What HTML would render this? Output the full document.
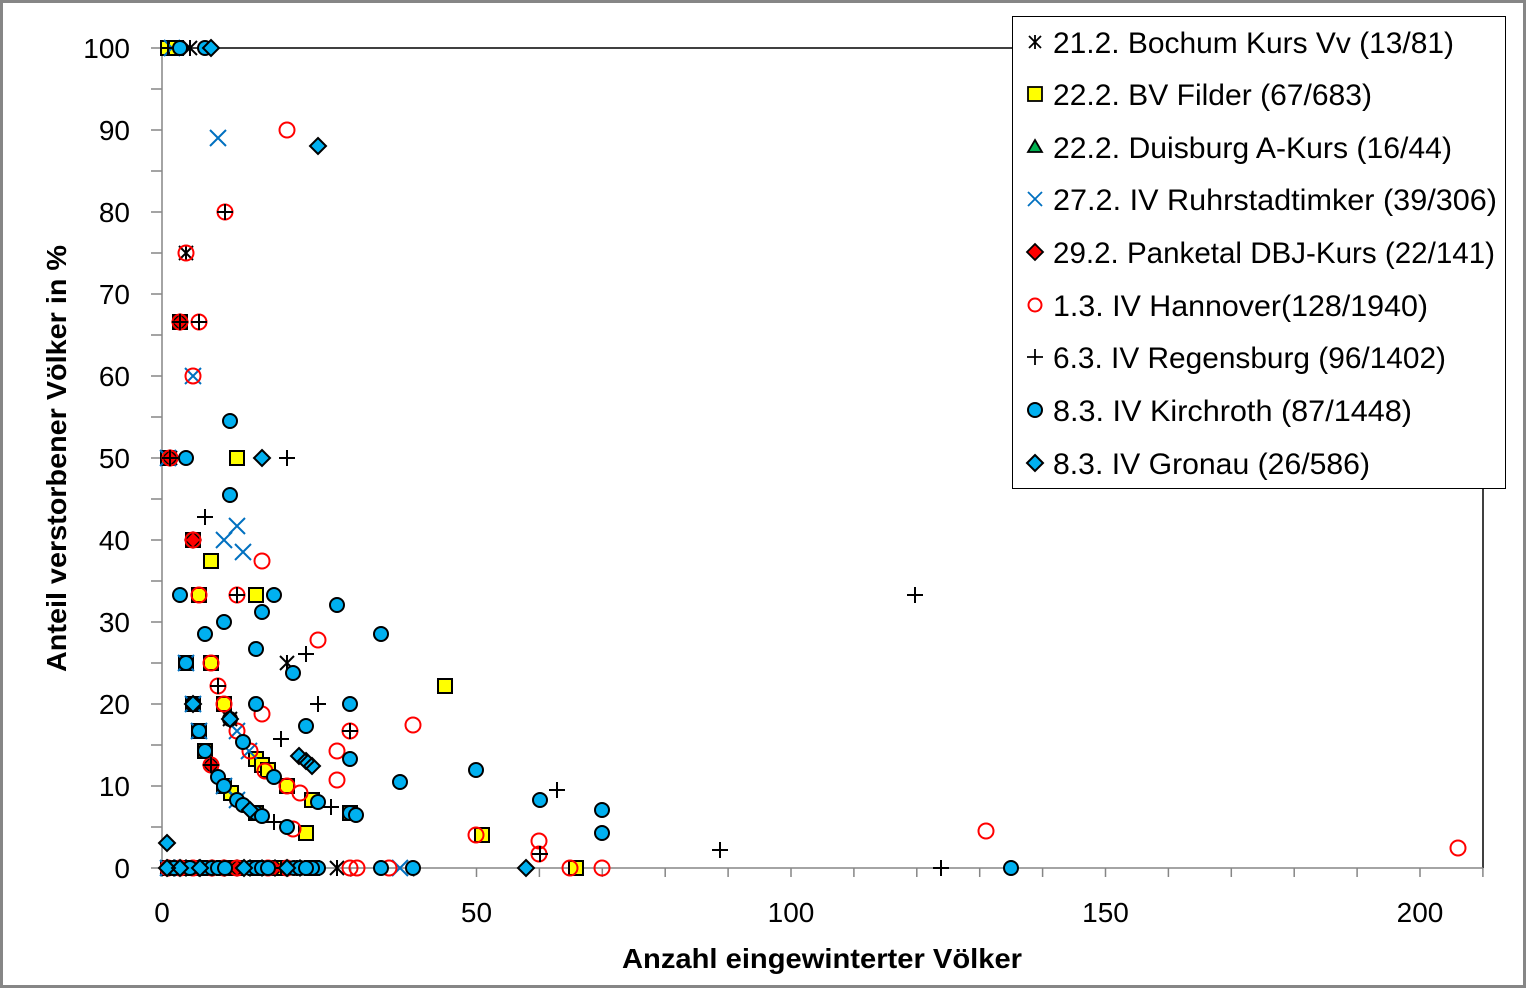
<!DOCTYPE html>
<html><head><meta charset="utf-8"><style>html,body{margin:0;padding:0;background:#fff}svg{display:block}</style></head>
<body>
<svg xmlns="http://www.w3.org/2000/svg" width="1526" height="988" viewBox="0 0 1526 988">
<rect x="0" y="0" width="1526" height="988" fill="#fff"/>
<rect x="1.5" y="1.5" width="1523" height="985" fill="none" stroke="#868686" stroke-width="3"/>
<!-- plot frame -->
<path d="M162 48H1483V868" fill="none" stroke="#000" stroke-width="1.5"/>
<path d="M162 48V868H1483" fill="none" stroke="#868686" stroke-width="1.5"/>
<path d="M151 868h11M151 827h11M151 786h11M151 745h11M151 704h11M151 663h11M151 622h11M151 581h11M151 540h11M151 499h11M151 458h11M151 417h11M151 376h11M151 335h11M151 294h11M151 253h11M151 212h11M151 171h11M151 130h11M151 89h11M151 48h11" stroke="#868686" stroke-width="1.5"/>
<path d="M162 868v9M224.9 868v9M287.8 868v9M350.7 868v9M413.6 868v9M476.5 868v9M539.4 868v9M602.3 868v9M665.2 868v9M728.1 868v9M791 868v9M853.9 868v9M916.8 868v9M979.7 868v9M1042.6 868v9M1105.5 868v9M1168.4 868v9M1231.3 868v9M1294.2 868v9M1357.1 868v9M1420 868v9M1482.9 868v9" stroke="#868686" stroke-width="1.5"/>
<g font-family="Liberation Sans, Arial, sans-serif" font-size="28" fill="#000" text-anchor="end">
<text x="130" y="878">0</text><text x="130" y="796">10</text><text x="130" y="714">20</text><text x="130" y="632">30</text><text x="130" y="550">40</text><text x="130" y="468">50</text><text x="130" y="386">60</text><text x="130" y="304">70</text><text x="130" y="222">80</text><text x="130" y="140">90</text><text x="130" y="58">100</text>
</g>
<g font-family="Liberation Sans, Arial, sans-serif" font-size="28" fill="#000" text-anchor="middle">
<text x="162" y="922">0</text><text x="476.5" y="922">50</text><text x="791" y="922">100</text><text x="1105.5" y="922">150</text><text x="1420" y="922">200</text>
</g>
<text x="622" y="968" font-family="Liberation Sans, Arial, sans-serif" font-size="28" font-weight="bold" textLength="400" lengthAdjust="spacingAndGlyphs">Anzahl eingewinterter Völker</text>
<text transform="translate(66,672) rotate(-90)" x="0" y="0" font-family="Liberation Sans, Arial, sans-serif" font-size="28" font-weight="bold" textLength="427" lengthAdjust="spacingAndGlyphs">Anteil verstorbener Völker in %</text>

<!-- Series 1: Bochum asterisk -->
<path fill="none" stroke="#000" stroke-width="2" d="M190 40v16M183 41l14 14M197 41l-14 14M186 245v16M179 246l14 14M193 246l-14 14M170 450v16M163 451l14 14M177 451l-14 14M287 655v16M280 656l14 14M294 656l-14 14M337 860v16M330 861l14 14M344 861l-14 14M168 860v16M161 861l14 14M175 861l-14 14M180 860v16M173 861l14 14M187 861l-14 14M199 860v16M192 861l14 14M206 861l-14 14M230 711v16M223 712l14 14M237 712l-14 14"/>

<!-- Series 2: BV Filder squares -->
<g fill="#FFFF00" stroke="#000" stroke-width="2">
<rect x="161" y="41" width="14" height="14"/><rect x="169" y="41" width="14" height="14"/><rect x="173" y="315" width="14" height="14"/><rect x="161" y="451" width="14" height="14"/><rect x="230" y="451" width="14" height="14"/><rect x="186" y="533" width="14" height="14"/><rect x="204" y="554" width="14" height="14"/><rect x="192" y="588" width="14" height="14"/><rect x="249" y="588" width="14" height="14"/><rect x="179" y="656" width="14" height="14"/><rect x="204" y="656" width="14" height="14"/><rect x="438" y="679" width="14" height="14"/><rect x="186" y="697" width="14" height="14"/><rect x="217" y="697" width="14" height="14"/><rect x="192" y="724" width="14" height="14"/><rect x="198" y="744" width="14" height="14"/><rect x="249" y="752" width="14" height="14"/><rect x="255" y="758" width="14" height="14"/><rect x="261" y="763" width="14" height="14"/><rect x="217" y="779" width="14" height="14"/><rect x="280" y="779" width="14" height="14"/><rect x="224" y="786" width="14" height="14"/><rect x="305" y="793" width="14" height="14"/><rect x="249" y="806" width="14" height="14"/><rect x="343" y="806" width="14" height="14"/><rect x="299" y="826" width="14" height="14"/><rect x="475" y="828" width="14" height="14"/><rect x="161" y="861" width="14" height="14"/><rect x="173" y="861" width="14" height="14"/><rect x="186" y="861" width="14" height="14"/><rect x="198" y="861" width="14" height="14"/><rect x="217" y="861" width="14" height="14"/><rect x="249" y="861" width="14" height="14"/><rect x="268" y="861" width="14" height="14"/><rect x="274" y="861" width="14" height="14"/><rect x="305" y="861" width="14" height="14"/><rect x="569" y="861" width="14" height="14"/><rect x="230" y="861" width="14" height="14"/>
</g>

<!-- Series 3: Duisburg triangles -->
<g fill="#00B050" stroke="#000" stroke-width="1.5">
<path d="M168 861l7 12h-14z"/><path d="M193 861l7 12h-14z"/>
</g>

<!-- Series 4: Ruhrstadtimker x -->
<path fill="none" stroke="#0070C0" stroke-width="2" d="M210 130l16 16M226 130l-16 16M164 40l16 16M180 40l-16 16M185 368l16 16M201 368l-16 16M160 450l16 16M176 450l-16 16M216 532l16 16M232 532l-16 16M229 518l16 16M245 518l-16 16M235 544l16 16M251 544l-16 16M229 723l16 16M245 723l-16 16M241 743l16 16M257 743l-16 16M392 860l16 16M408 860l-16 16M178 655l16 16M194 655l-16 16M185 696l16 16M201 696l-16 16M191 723l16 16M207 723l-16 16M216 778l16 16M232 778l-16 16M229 792l16 16M245 792l-16 16M160 860l16 16M176 860l-16 16"/>

<!-- Series 5: Panketal red diamonds -->
<path fill="#FF0000" stroke="#000" stroke-width="1.5" d="M180 314l8 8l-8 8l-8-8zM193 532l8 8l-8 8l-8-8zM170 450l8 8l-8 8l-8-8zM211 757l8 8l-8 8l-8-8zM168 860l8 8l-8 8l-8-8zM186 860l8 8l-8 8l-8-8zM212 860l8 8l-8 8l-8-8zM237 860l8 8l-8 8l-8-8zM262 860l8 8l-8 8l-8-8zM287 860l8 8l-8 8l-8-8zM300 860l8 8l-8 8l-8-8zM174 860l8 8l-8 8l-8-8zM199 860l8 8l-8 8l-8-8zM224 860l8 8l-8 8l-8-8zM250 860l8 8l-8 8l-8-8zM275 860l8 8l-8 8l-8-8z"/>

<!-- Series 6: Hannover red open circles -->
<g fill="none" stroke="#FF0000" stroke-width="2">
<circle cx="287" cy="130" r="7.5"/><circle cx="225" cy="212" r="7.5"/><circle cx="186" cy="253" r="7.5"/><circle cx="180" cy="322" r="7.5"/><circle cx="199" cy="322" r="7.5"/><circle cx="193" cy="376" r="7.5"/><circle cx="170" cy="458" r="7.5"/><circle cx="193" cy="540" r="7.5"/><circle cx="262" cy="561" r="7.5"/><circle cx="199" cy="595" r="7.5"/><circle cx="237" cy="595" r="7.5"/><circle cx="318" cy="640" r="7.5"/><circle cx="211" cy="663" r="7.5"/><circle cx="218" cy="686" r="7.5"/><circle cx="224" cy="704" r="7.5"/><circle cx="262" cy="714" r="7.5"/><circle cx="413" cy="725" r="7.5"/><circle cx="237" cy="731" r="7.5"/><circle cx="350" cy="731" r="7.5"/><circle cx="250" cy="751" r="7.5"/><circle cx="337" cy="751" r="7.5"/><circle cx="211" cy="765" r="7.5"/><circle cx="265" cy="771" r="7.5"/><circle cx="337" cy="780" r="7.5"/><circle cx="300" cy="793" r="7.5"/><circle cx="287" cy="786" r="7.5"/><circle cx="293" cy="829" r="7.5"/><circle cx="476" cy="835" r="7.5"/><circle cx="539" cy="841" r="7.5"/><circle cx="539" cy="854" r="7.5"/><circle cx="986" cy="831" r="7.5"/><circle cx="1458" cy="848" r="7.5"/><circle cx="350" cy="868" r="7.5"/><circle cx="357" cy="868" r="7.5"/><circle cx="389" cy="868" r="7.5"/><circle cx="570" cy="868" r="7.5"/><circle cx="602" cy="868" r="7.5"/><circle cx="193" cy="868" r="7.5"/><circle cx="212" cy="868" r="7.5"/><circle cx="237" cy="868" r="7.5"/><circle cx="268" cy="868" r="7.5"/><circle cx="168" cy="868" r="7.5"/><circle cx="180" cy="868" r="7.5"/><circle cx="224" cy="868" r="7.5"/><circle cx="287" cy="868" r="7.5"/>
</g>

<!-- Series 7: Regensburg + -->
<path fill="none" stroke="#000" stroke-width="2" d="M160 48h16M168 40v16M217 212h16M225 204v16M191 322h16M199 314v16M172 322h16M180 314v16M162 458h16M170 450v16M279 458h16M287 450v16M197 517h16M205 509v16M229 595h16M237 587v16M298 654h16M306 646v16M210 686h16M218 678v16M310 704h16M318 696v16M342 731h16M350 723v16M273 739h16M281 731v16M203 765h16M211 757v16M266 822h16M274 814v16M323 807h16M331 799v16M549 790h16M557 782v16M532 854h16M540 846v16M712 850h16M720 842v16M907 595h16M915 587v16M933 868h16M941 860v16M289 868h16M297 860v16M162 868h16M170 860v16M197 868h16M205 860v16M273 868h16M281 860v16M304 868h16M312 860v16"/>

<!-- Series 8: Kirchroth blue circles -->
<g fill="#00B0F0" stroke="#000" stroke-width="2">
<circle cx="180" cy="48" r="7"/><circle cx="205" cy="48" r="7"/><circle cx="230" cy="421" r="7"/><circle cx="230" cy="495" r="7"/><circle cx="186" cy="458" r="7"/><circle cx="180" cy="595" r="7"/><circle cx="274" cy="595" r="7"/><circle cx="337" cy="605" r="7"/><circle cx="262" cy="612" r="7"/><circle cx="224" cy="622" r="7"/><circle cx="205" cy="634" r="7"/><circle cx="381" cy="634" r="7"/><circle cx="256" cy="649" r="7"/><circle cx="186" cy="663" r="7"/><circle cx="293" cy="673" r="7"/><circle cx="193" cy="704" r="7"/><circle cx="256" cy="704" r="7"/><circle cx="350" cy="704" r="7"/><circle cx="230" cy="719" r="7"/><circle cx="306" cy="726" r="7"/><circle cx="199" cy="731" r="7"/><circle cx="243" cy="742" r="7"/><circle cx="205" cy="751" r="7"/><circle cx="350" cy="759" r="7"/><circle cx="476" cy="770" r="7"/><circle cx="218" cy="777" r="7"/><circle cx="274" cy="777" r="7"/><circle cx="400" cy="782" r="7"/><circle cx="224" cy="786" r="7"/><circle cx="237" cy="800" r="7"/><circle cx="540" cy="800" r="7"/><circle cx="318" cy="802" r="7"/><circle cx="243" cy="805" r="7"/><circle cx="602" cy="810" r="7"/><circle cx="256" cy="813" r="7"/><circle cx="350" cy="813" r="7"/><circle cx="356" cy="815" r="7"/><circle cx="262" cy="816" r="7"/><circle cx="287" cy="827" r="7"/><circle cx="602" cy="833" r="7"/><circle cx="1011" cy="868" r="7"/><circle cx="413" cy="868" r="7"/><circle cx="381" cy="868" r="7"/><circle cx="318" cy="868" r="7"/><circle cx="312" cy="868" r="7"/><circle cx="205" cy="868" r="7"/><circle cx="212" cy="868" r="7"/><circle cx="218" cy="868" r="7"/><circle cx="225" cy="868" r="7"/><circle cx="250" cy="868" r="7"/><circle cx="256" cy="868" r="7"/><circle cx="262" cy="868" r="7"/><circle cx="268" cy="868" r="7"/><circle cx="174" cy="868" r="7"/><circle cx="190" cy="868" r="7"/><circle cx="294" cy="868" r="7"/><circle cx="300" cy="868" r="7"/><circle cx="306" cy="868" r="7"/>
</g>

<!-- Series 9: Gronau blue diamonds -->
<path fill="#00B0F0" stroke="#000" stroke-width="2" d="M211 40l8 8l-8 8l-8-8zM318 138l8 8l-8 8l-8-8zM262 450l8 8l-8 8l-8-8zM193 696l8 8l-8 8l-8-8zM230 711l8 8l-8 8l-8-8zM299 748l8 8l-8 8l-8-8zM306 753l8 8l-8 8l-8-8zM312 758l8 8l-8 8l-8-8zM250 802l8 8l-8 8l-8-8zM167 835l8 8l-8 8l-8-8zM167 860l8 8l-8 8l-8-8zM180 860l8 8l-8 8l-8-8zM200 860l8 8l-8 8l-8-8zM244 860l8 8l-8 8l-8-8zM287 860l8 8l-8 8l-8-8zM526 860l8 8l-8 8l-8-8z"/>

<!-- Legend -->
<rect x="1012.5" y="16.5" width="493" height="472" fill="#fff" stroke="#000" stroke-width="1"/>
<path fill="none" stroke="#000" stroke-width="1.8" d="M1035 35v14M1029 36l12 12M1041 36l-12 12"/>
<rect x="1028" y="87" width="14" height="14" fill="#FFFF00" stroke="#000" stroke-width="1.8"/>
<path d="M1035 140l7 12h-14z" fill="#00B050" stroke="#000" stroke-width="1.8"/>
<path d="M1028 192l14 14M1042 192l-14 14" stroke="#0070C0" stroke-width="1.8" fill="none"/>
<path d="M1035 244l8 8l-8 8l-8-8z" fill="#FF0000" stroke="#000" stroke-width="1.8"/>
<circle cx="1035" cy="305" r="6.5" fill="none" stroke="#FF0000" stroke-width="2"/>
<path d="M1027 357h16M1035 349v16" stroke="#000" stroke-width="1.8" fill="none"/>
<circle cx="1035" cy="410" r="7" fill="#00B0F0" stroke="#000" stroke-width="2"/>
<path d="M1035 455l8 8l-8 8l-8-8z" fill="#00B0F0" stroke="#000" stroke-width="2"/>
<g font-family="Liberation Sans, Arial, sans-serif" font-size="30" fill="#000">
<text x="1053" y="53" textLength="401" lengthAdjust="spacingAndGlyphs">21.2. Bochum Kurs Vv (13/81)</text>
<text x="1053" y="105" textLength="319" lengthAdjust="spacingAndGlyphs">22.2. BV Filder (67/683)</text>
<text x="1053" y="158" textLength="399" lengthAdjust="spacingAndGlyphs">22.2. Duisburg A-Kurs (16/44)</text>
<text x="1053" y="210" textLength="444" lengthAdjust="spacingAndGlyphs">27.2. IV Ruhrstadtimker (39/306)</text>
<text x="1053" y="263" textLength="442" lengthAdjust="spacingAndGlyphs">29.2. Panketal DBJ-Kurs (22/141)</text>
<text x="1053" y="316" textLength="375" lengthAdjust="spacingAndGlyphs">1.3. IV Hannover(128/1940)</text>
<text x="1053" y="368" textLength="393" lengthAdjust="spacingAndGlyphs">6.3. IV Regensburg (96/1402)</text>
<text x="1053" y="421" textLength="359" lengthAdjust="spacingAndGlyphs">8.3. IV Kirchroth (87/1448)</text>
<text x="1053" y="474" textLength="317" lengthAdjust="spacingAndGlyphs">8.3. IV Gronau (26/586)</text>
</g>
</svg>
</body></html>
